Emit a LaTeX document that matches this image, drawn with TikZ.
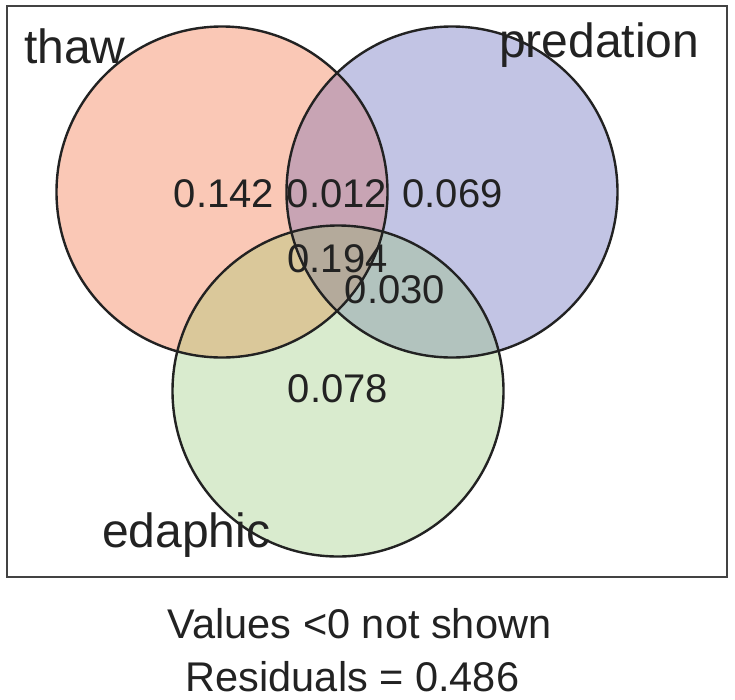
\documentclass[tikz,border=0pt]{standalone}
\usepackage{fontspec}
\setmainfont{Liberation Sans}
\definecolor{cT}{RGB}{250,200,182}
\definecolor{cP}{RGB}{194,196,228}
\definecolor{cE}{RGB}{217,235,206}
\definecolor{cTP}{RGB}{200,164,180}
\definecolor{cTE}{RGB}{218,200,154}
\definecolor{cPE}{RGB}{178,195,190}
\definecolor{cTPE}{RGB}{180,170,155}
\definecolor{ink}{RGB}{34,34,34}
\tikzset{
  setlabel/.style={inner sep=0pt, text=ink, font=\fontsize{48}{56}\selectfont},
  vallabel/.style={inner sep=0pt, text=ink, anchor=base, font=\fontsize{40}{48}\selectfont},
  footlabel/.style={inner sep=0pt, text=ink, anchor=base, font=\fontsize{41.5}{49}\selectfont},
  outline/.style={draw=ink, line width=2.4pt}
}
\begin{document}
\begin{tikzpicture}[x=1pt,y=-1pt]
\useasboundingbox (0,0) rectangle (735,699);
\fill[white] (0,0) rectangle (735,699);
\coordinate (T) at (222,192);
\coordinate (P) at (452,192);
\coordinate (E) at (338,391);
\def\R{165.5pt}
% single fills
\fill[cT] (T) circle[radius=\R];
\fill[cP] (P) circle[radius=\R];
\fill[cE] (E) circle[radius=\R];
% pairwise
\begin{scope}
  \clip (T) circle[radius=\R];
  \fill[cTP] (P) circle[radius=\R];
  \fill[cTE] (E) circle[radius=\R];
\end{scope}
\begin{scope}
  \clip (P) circle[radius=\R];
  \fill[cPE] (E) circle[radius=\R];
\end{scope}
\begin{scope}
  \clip (T) circle[radius=\R];
  \clip (P) circle[radius=\R];
  \fill[cTPE] (E) circle[radius=\R];
\end{scope}
% outlines
\draw[outline] (T) circle[radius=\R];
\draw[outline] (P) circle[radius=\R];
\draw[outline] (E) circle[radius=\R];
% frame
\draw[draw=ink!85, line width=2.2pt] (7,6) rectangle (727,577);
% set labels
\node[setlabel, anchor=base west] (lT) at (24,63) {thaw};
\node[setlabel, anchor=base west] (lP) at (499,57) {predation};
\node[setlabel, anchor=base west] (lE) at (102,547) {edaphic};
% values
\node[vallabel] (v142) at (224,207) {0.142};
\node[vallabel] (v012) at (337,207) {0.012};
\node[vallabel] (v069) at (452.5,207) {0.069};
\node[vallabel] (v194) at (337.5,272) {0.194};
\node[vallabel] (v030) at (395,303) {0.030};
\node[vallabel] (v078) at (338,402) {0.078};
% footer
\node[footlabel] (f1) at (359.5,638) {Values <0 not shown};
\node[footlabel] (f2) at (352.5,691) {Residuals = 0.486};
\end{tikzpicture}
\end{document}
